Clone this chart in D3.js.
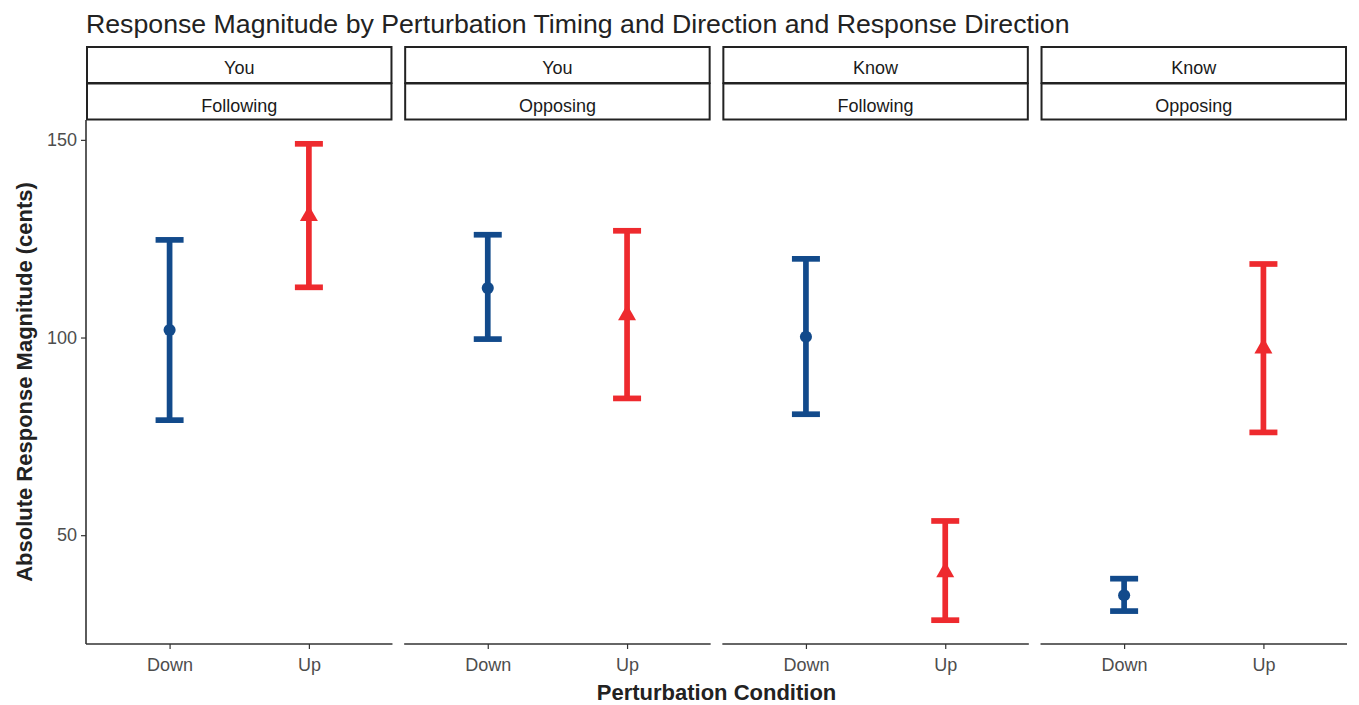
<!DOCTYPE html>
<html>
<head>
<meta charset="utf-8">
<script src="https://cdn.jsdelivr.net/npm/d3@7"></script>
<style>
  html, body { margin: 0; padding: 0; background: #ffffff; }
  svg { display: block; font-family: "Liberation Sans", Arial, sans-serif; }
</style>
</head>
<body>
<svg id="chart" width="1359" height="705"></svg>
<script>
// ---- data ----
const timing = ["You", "You", "Know", "Know"];
const responseDirection = ["Following", "Opposing", "Following", "Opposing"];
const conditions = ["Down", "Up"];
const meanDown  = [101.9, 112.5, 100.2, 34.8];
const lowerDown = [79.1, 99.6, 80.6, 30.8];
const upperDown = [124.7, 126.0, 119.9, 39.0];
const meanUp    = [130.8, 105.7, 40.7, 97.3];
const lowerUp   = [112.7, 84.6, 28.5, 76.0];
const upperUp   = [149.0, 127.0, 53.6, 118.6];
const yTicks = [50, 100, 150];
const titleText = "Response Magnitude by Perturbation Timing and Direction and Response Direction";
const xTitle = "Perturbation Condition";
const yTitle = "Absolute Response Magnitude (cents)";

const colors = { Down: "#124a8b", Up: "#ee2a2e" };

// ---- layout ----
const svg = d3.select("#chart");
const plotLeft = 86, plotRight = 1347, plotTop = 120, plotBottom = 644;
const gap = 11.7;
const nPanels = timing.length;
const panelW = (plotRight - plotLeft - gap * (nPanels - 1)) / nPanels;
const stripH = 36;
const FONT = "Liberation Sans, Arial, sans-serif";

// y scale with ggplot-like 5% expansion
const allVals = lowerDown.concat(upperDown, lowerUp, upperUp);
const yMin = d3.min(allVals), yMax = d3.max(allVals);
const pad = (yMax - yMin) * 0.05;
const y = d3.scaleLinear().domain([yMin - pad, yMax + pad]).range([plotBottom, plotTop]);

// title
svg.append("text")
  .attr("x", plotLeft).attr("y", 33)
  .attr("font-size", 26.7).attr("fill", "#222")
  .text(titleText);

const rows = [];
for (let i = 0; i < nPanels; i++) {
  rows.push({ panel: i, cond: "Down", mean: meanDown[i], lo: lowerDown[i], hi: upperDown[i] });
  rows.push({ panel: i, cond: "Up", mean: meanUp[i], lo: lowerUp[i], hi: upperUp[i] });
}

for (let i = 0; i < nPanels; i++) {
  const x0 = plotLeft + i * (panelW + gap);
  // ggplot discrete expansion (0.6 on each side)
  const x = d3.scaleOrdinal().domain(conditions)
    .range(conditions.map((c, k) => x0 + panelW * ((k + 0.6) / (conditions.length - 1 + 1.2))));
  const g = svg.append("g");

  // strips
  [timing[i], responseDirection[i]].forEach((lab, k) => {
    const sy = 47 + k * (stripH + 0.5);
    g.append("rect")
      .attr("x", x0 + 1).attr("y", sy)
      .attr("width", panelW - 2).attr("height", stripH)
      .attr("fill", "#fff").attr("stroke", "#222").attr("stroke-width", 2);
    g.append("text")
      .attr("x", x0 + panelW / 2).attr("y", sy + 26.5 + k * 1.5)
      .attr("text-anchor", "middle").attr("font-size", 18).attr("fill", "#1a1a1a")
      .text(lab);
  });

  // bottom axis
  const xAxis = d3.axisBottom(x).tickSize(5).tickPadding(9);
  const ax = g.append("g").attr("transform", `translate(0,${plotBottom})`).call(xAxis);
  ax.select(".domain").attr("d", `M${x0},0H${x0 + panelW}`).attr("stroke", "#333").attr("stroke-width", 1.6);
  ax.selectAll(".tick line").attr("stroke", "#333").attr("stroke-width", 1.2);
  ax.selectAll(".tick text").attr("font-size", 18).attr("fill", "#4d4d4d").attr("font-family", FONT);

  if (i === 0) {
    const yAxis = d3.axisLeft(y).tickValues(yTicks).tickSize(5).tickPadding(4);
    const ay = g.append("g").attr("transform", `translate(${plotLeft},0)`).call(yAxis);
    ay.select(".domain").attr("d", `M0,${plotTop}V${plotBottom}`).attr("stroke", "#333").attr("stroke-width", 1.6);
    ay.selectAll(".tick line").attr("stroke", "#333").attr("stroke-width", 1.2);
    ay.selectAll(".tick text").attr("font-size", 18).attr("fill", "#4d4d4d").attr("font-family", FONT);
  }

  // error bars
  const pr = rows.filter(r => r.panel === i);
  const capW = 28;
  const eb = g.selectAll(".eb").data(pr).enter().append("g")
    .attr("stroke", d => colors[d.cond]).attr("stroke-width", 5.7).attr("fill", "none");
  eb.append("line")
    .attr("x1", d => x(d.cond)).attr("x2", d => x(d.cond))
    .attr("y1", d => y(d.lo)).attr("y2", d => y(d.hi));
  eb.append("line")
    .attr("x1", d => x(d.cond) - capW / 2).attr("x2", d => x(d.cond) + capW / 2)
    .attr("y1", d => y(d.lo)).attr("y2", d => y(d.lo));
  eb.append("line")
    .attr("x1", d => x(d.cond) - capW / 2).attr("x2", d => x(d.cond) + capW / 2)
    .attr("y1", d => y(d.hi)).attr("y2", d => y(d.hi));

  // points
  g.selectAll(".pt").data(pr).enter().append("path")
    .attr("transform", d => `translate(${x(d.cond)},${y(d.mean)})`)
    .attr("d", d => d.cond === "Down"
      ? d3.symbol().type(d3.symbolCircle).size(115)()
      : d3.symbol().type(d3.symbolTriangle).size(140)())
    .attr("fill", d => colors[d.cond]);
}

// axis titles
svg.append("text")
  .attr("x", (plotLeft + plotRight) / 2).attr("y", 700)
  .attr("text-anchor", "middle").attr("font-size", 22).attr("font-weight", "bold").attr("fill", "#222")
  .text(xTitle);
svg.append("text")
  .attr("transform", `translate(32,${(plotTop + plotBottom) / 2}) rotate(-90)`)
  .attr("text-anchor", "middle").attr("font-size", 22).attr("font-weight", "bold").attr("fill", "#222")
  .text(yTitle);
</script>
</body>
</html>
